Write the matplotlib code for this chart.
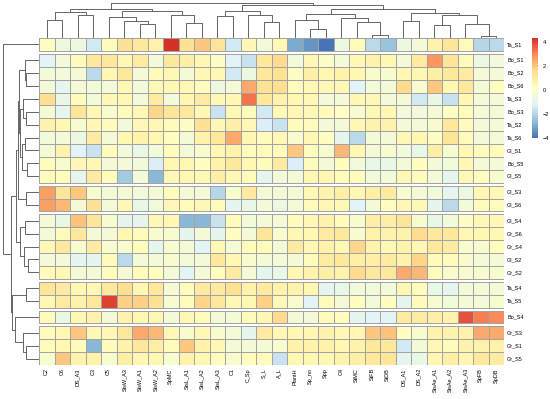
import numpy as np
import matplotlib
matplotlib.use("Agg")
import matplotlib.pyplot as plt
from matplotlib.colors import LinearSegmentedColormap
from matplotlib.cm import ScalarMappable
from matplotlib.colors import Normalize

plt.rcParams['font.family'] = ['Liberation Sans', 'DejaVu Sans']

# column / row order as shown (after clustering)
cols = ["C2", "C6", "DS_A3", "C3", "C5", "StsW_A3", "StsW_A1", "StsW_A2", "SpMC",
        "StsL_A1", "StsL_A2", "StsL_A3", "C1", "C_Sp", "S_L", "A_L", "PlantH", "Sp_no",
        "Spp", "C4", "StMC", "StFB", "StDB", "DS_A1", "DS_A2", "StsAe_A1", "StsAe_A2",
        "StsAe_A3", "SpFB", "SpDB"]
rows = ["Ta_S1", "Bo_S1", "Bo_S2", "Bo_S6", "Ta_S3", "Bo_S3", "Ta_S2", "Ta_S6", "Gl_S1",
        "Bo_S5", "Gl_S5", "Gl_S3", "Gl_S6", "Gl_S4", "Gr_S6", "Gr_S4", "Gl_S2", "Gr_S2",
        "Ta_S4", "Ta_S5", "Bo_S4", "Gr_S3", "Gr_S1", "Gr_S5"]

# scaled values (z-scores), one list per row
values = np.array([
    [0.15, -0.65, -0.65, -1.45, 0.3, 1.4, 1.15, 0.7, 4.3, 1.4, 1.9, 1.3, -1.45, 0.4, -0.35, 0.4, -3.0, -3.4, -4.0, -0.65, 0.3, -1.9, -2.5, -0.65, -0.35, 0.7, 1.3, 0.3, -2.0, -1.9],
    [-1.15, -0.5, 0.3, 1.15, 1.15, 0.4, 1.0, -0.5, 1.15, 0.85, 0.4, 0.0, -1.15, -1.6, 1.15, 1.6, -0.5, 0.4, 0.0, -0.5, 0.55, 0.7, 0.55, -0.35, 1.0, 2.8, 1.3, 0.3, -0.65, -0.5],
    [-0.5, -0.5, -0.35, -1.9, 0.55, 1.15, -0.35, 0.3, 0.4, -0.35, 0.4, 0.4, -1.45, -0.65, 1.15, 1.4, 0.0, 0.85, 0.55, 0.7, 0.55, -0.2, -0.2, 0.55, 0.4, 0.85, 1.15, 1.0, -0.35, -0.35],
    [-0.5, -1.0, -0.35, -0.5, -0.35, 0.55, -0.5, 0.4, 0.55, 0.4, 0.3, -0.65, -0.35, 2.4, 1.4, 1.5, 0.3, 0.4, 0.4, 0.4, -1.15, -0.5, -0.35, 1.6, -0.2, 1.9, 0.55, 1.15, -0.35, 0.15],
    [1.5, -0.8, 0.3, -0.5, 0.4, 0.4, -0.35, 1.0, -0.5, 0.55, 1.0, 0.4, 0.55, 3.3, 1.15, 0.7, 0.55, 0.55, -0.35, -0.35, 0.55, 0.4, -0.35, -0.35, -1.45, -0.8, -1.6, 0.55, -0.35, -0.35],
    [-0.35, -1.0, 1.3, 0.4, -0.2, 0.3, 0.4, 1.7, 1.3, 1.15, 0.55, -1.6, 0.4, 0.3, -1.45, 0.4, 0.55, 0.4, 0.3, 0.0, -0.2, 0.4, 0.4, -0.5, -0.5, -0.35, 0.0, 0.3, -0.35, -0.35],
    [0.7, 0.55, -0.2, 0.55, 0.3, -0.5, 0.4, 0.55, 0.3, 0.0, 1.4, 0.4, 0.85, 0.4, -1.3, -1.6, 0.3, 0.3, -0.35, -0.35, 0.55, 0.7, 0.7, -0.35, -0.35, -0.2, 1.15, 0.3, -0.35, -0.35],
    [-0.5, -0.35, -0.65, 1.0, -0.35, 0.55, 0.7, 0.4, 0.15, -0.35, 0.7, 1.15, 2.4, 0.55, 0.3, 0.55, -0.2, 0.4, 0.0, -1.0, -1.9, -0.35, -0.35, 0.4, 0.55, 0.0, 1.3, 0.3, -0.35, -0.35],
    [-0.35, 0.7, -1.15, -1.6, 0.3, -0.5, -0.8, -0.5, 0.3, -0.35, -0.2, 0.55, 0.7, 0.3, 0.3, 0.3, 1.9, 0.3, -0.2, 2.2, 0.55, -0.35, -0.2, -0.5, -0.8, 0.85, -0.2, 0.55, 0.3, 0.3],
    [0.3, -0.2, 0.4, 0.4, -0.35, -0.35, -0.5, -1.3, 0.55, 0.4, 0.15, 0.7, 1.15, 0.4, 0.3, 1.0, -1.3, 0.3, -0.35, 0.15, -0.5, -0.8, -0.8, -0.35, 0.15, -0.35, -0.5, 0.4, -0.35, -0.35],
    [0.3, 0.3, -1.0, 1.0, 0.3, -2.3, -0.5, -2.7, 0.55, 0.55, 0.4, 0.85, 0.55, 0.3, -1.0, -0.5, -0.35, 0.55, 0.55, 0.3, 0.3, -0.5, -0.5, 0.4, 0.3, -0.35, -1.0, 0.4, 0.15, -0.2],
    [2.6, 1.3, 1.9, -0.2, -0.35, -0.35, -0.5, -0.35, 0.3, -0.35, -0.35, -2.0, -0.2, 1.0, -0.35, -0.35, -0.35, 0.4, 0.7, 0.85, 0.55, 0.85, 1.0, -0.2, -0.35, -0.5, -1.0, -0.65, 0.55, 0.4],
    [2.6, 2.2, -0.35, 1.4, -0.5, 0.4, -0.8, -0.5, 0.4, 0.3, 0.4, 0.3, -1.0, -0.8, -0.5, -0.65, -0.35, 0.3, 0.55, 0.4, -1.15, -0.35, 0.15, 0.4, 0.4, -1.0, -1.9, -0.5, 0.3, 0.3],
    [-0.35, -0.8, 2.0, 1.3, -0.2, -1.0, -1.0, 0.4, 0.55, -2.7, -2.7, -1.6, 0.3, -0.5, -0.35, -0.35, 0.3, 0.55, 0.7, 0.3, -0.2, 0.85, 0.85, 1.3, -0.2, -0.8, -0.5, 0.0, 0.4, 0.4],
    [-0.35, 0.3, 1.15, -0.35, -0.35, 0.55, 0.3, -0.2, -0.2, -1.0, -0.35, -1.0, 0.15, -0.35, 1.3, -0.2, 0.4, 0.55, 1.0, 1.15, -0.2, 0.7, 0.7, 0.7, 1.6, 1.15, 1.15, 0.55, 0.55, 0.4],
    [0.4, 1.15, -0.2, 1.0, -0.2, -0.2, 0.3, -1.0, -0.2, -0.35, -1.15, 0.4, -0.35, 0.3, 0.3, -0.35, 1.0, 0.55, 0.7, 0.4, 1.7, 0.7, 0.4, 0.7, 0.55, 1.15, 1.0, -0.2, -0.2, 0.15],
    [-0.35, -0.5, -1.0, -1.0, 0.3, -1.9, -0.35, -0.35, -0.2, -0.35, -0.35, 1.15, 0.55, -0.2, -0.35, -0.35, -0.35, 0.3, 1.0, 1.15, 0.85, 0.85, 1.0, 0.7, 1.7, 0.3, 0.3, -0.2, -0.35, -0.35],
    [0.3, 0.55, -0.35, -0.35, 0.3, -0.35, 0.3, 0.15, -0.35, -1.15, -0.35, 0.15, 1.0, -0.35, -1.0, -0.8, 0.55, 0.7, 0.85, 0.7, 1.6, 1.15, 1.15, 2.4, 2.2, 0.3, -0.2, -0.2, -0.2, -0.2],
    [1.3, 1.0, 0.55, 0.4, 1.15, 1.5, 0.55, 1.15, -0.35, 0.3, 1.0, 1.0, 1.4, 0.7, 1.0, 0.7, 0.7, 0.55, -1.0, -0.8, -0.5, -0.5, -0.5, 0.55, 0.3, -0.8, -1.0, -0.5, -0.35, -0.35],
    [0.55, 1.0, 0.7, 1.15, 4.0, 1.8, 1.8, 1.4, -0.2, 0.3, 1.7, 1.15, 0.4, 0.55, 1.8, 0.4, -0.2, -1.15, 0.3, -0.35, 0.15, -0.5, 0.15, -1.0, 0.3, -0.2, -0.5, -0.35, -0.35, -0.2],
    [0.3, -0.8, 0.55, 0.7, -0.35, 0.7, 0.55, 0.55, -0.35, 0.4, 0.3, -0.35, -0.35, 0.3, 0.55, 1.6, -0.35, -0.35, 0.3, 0.15, -1.0, -1.15, -1.15, 1.0, 1.0, 0.85, 0.7, 3.8, 3.1, 2.9],
    [0.3, 0.55, 1.9, 0.4, 0.4, 1.15, 2.4, 2.2, 0.4, -0.2, 0.4, -0.2, -0.35, -1.0, 1.0, 0.55, 0.55, 0.55, 0.7, 0.4, 0.55, 1.9, 2.0, 0.15, -0.2, 0.7, 0.7, 0.7, 2.4, 2.4],
    [0.3, 0.55, 0.3, -2.7, 0.3, 0.7, 1.15, 0.85, 0.3, 1.9, 0.7, 0.4, -0.35, -0.35, -0.35, -0.2, 0.7, 0.7, 0.7, 0.55, 0.7, 1.15, 1.15, -1.45, -0.35, 0.4, 0.3, 0.7, 0.7, 0.7],
    [-0.2, 1.9, 0.7, 0.7, -0.2, 0.85, 0.55, 0.4, -0.2, 0.7, 0.4, 0.3, -0.2, 0.15, 0.3, -1.6, 0.4, 0.55, 0.55, 0.7, 0.85, 1.15, 1.3, -1.0, -0.8, 0.55, 0.85, 0.55, 1.15, 1.0],
])

# row gaps after these many rows (cutree k = 7)
row_gaps = [1, 11, 13, 18, 20, 21]

# dendrograms: (left, right, merge height)
col_tree = (
    ((("C2", "C6", 53), ("DS_A3", "C3", 70), 77),
     (("C5", ("StsW_A3", ("StsW_A1", "StsW_A2", 43), 50), 63),
      ("SpMC", ("StsL_A1", "StsL_A2", 45), 68), 80), 88),
    ((("StsL_A3", "C1", 65), ("C_Sp", ("S_L", "A_L", 47), 70), 80),
     ((("PlantH", ("Sp_no", "Spp", 27), 55), ("C4", ("StMC", ("StFB", "StDB", 10), 47), 60), 72),
      (("DS_A1", "DS_A2", 50),
       (("StsAe_A1", "StsAe_A2", 40), ("StsAe_A3", ("SpFB", "SpDB", 5), 43), 68), 75), 87), 98),
    105)

row_tree = (
    "Ta_S1",
    (((((("Bo_S1", ("Bo_S2", "Bo_S6", 38), 43),
          (("Ta_S3", ("Bo_S3", "Ta_S2", 38), 48),
           (("Ta_S6", "Gl_S1", 43), ("Bo_S5", "Gl_S5", 36), 50), 56), 60)),
        ("Gl_S3", "Gl_S6", 40), 63),
       (("Gl_S4", "Gr_S6", 43), ("Gr_S4", ("Gl_S2", "Gr_S2", 33), 46), 58), 70),
      (("Ta_S4", "Ta_S5", 40), ("Bo_S4", ("Gr_S3", ("Gr_S1", "Gr_S5", 38), 48), 73), 80), 83),
    108)

W, H = 550, 399
fig = plt.figure(figsize=(W / 100, H / 100), dpi=100)


def px_axes(x0, y0, x1, y1):
    ax = fig.add_axes([x0 / W, 1 - y1 / H, (x1 - x0) / W, (y1 - y0) / H])
    ax.set_axis_off()
    return ax


pal = ["#4575B4", "#91BFDB", "#E0F3F8", "#FFFFBF", "#FEE090", "#FC8D59", "#D73027"]
cmap = LinearSegmentedColormap.from_list("pheat", pal, N=100)
vmin, vmax = values.min(), values.max()

gap = 0.23
nr, nc = values.shape
row_top = np.array([i + gap * sum(g <= i for g in row_gaps) for i in range(nr)])
total_h = nr + gap * len(row_gaps)

# heatmap
hx0, hy0, hx1, hy1 = 39, 38, 504, 365
ax = px_axes(hx0, hy0, hx1, hy1)
bounds = [0] + row_gaps + [nr]
for s, e in zip(bounds[:-1], bounds[1:]):
    ax.pcolormesh(np.arange(nc + 1), row_top[s] + np.arange(e - s + 1), values[s:e],
                  cmap=cmap, vmin=vmin, vmax=vmax, edgecolor="#a3a3a3", linewidth=0.4)
ax.set_xlim(0, nc)
ax.set_ylim(total_h, 0)

for i, r in enumerate(rows):
    ax.text(nc + 0.2, row_top[i] + 0.5, r, fontsize=4, ha="left", va="center")
for j, c in enumerate(cols):
    ax.text(j + 0.5, total_h + 0.25, c, fontsize=4, rotation=90, ha="center", va="top")


def draw_tree(a, node, pos, top):
    if isinstance(node, str):
        return pos[node], 0.0
    left, right, h = node
    pa, ha = draw_tree(a, left, pos, top)
    pb, hb = draw_tree(a, right, pos, top)
    xs, ys = [pa, pa, pb, pb], [ha, h, h, hb]
    if top:
        a.plot(xs, ys, color="#4d4d4d", lw=0.6, solid_capstyle="butt")
    else:
        a.plot(ys, xs, color="#4d4d4d", lw=0.6, solid_capstyle="butt")
    return (pa + pb) / 2, h


# column dendrogram
axt = px_axes(hx0, 3, hx1, hy0)
draw_tree(axt, col_tree, {c: j + 0.5 for j, c in enumerate(cols)}, True)
axt.set_xlim(0, nc)
axt.set_ylim(0, col_tree[2])

# row dendrogram
axl = px_axes(3, hy0, hx0, hy1)
draw_tree(axl, row_tree, {r: row_top[i] + 0.5 for i, r in enumerate(rows)}, False)
axl.set_ylim(total_h, 0)
axl.set_xlim(row_tree[2], 0)

# legend
cax = fig.add_axes([531.7 / W, 1 - 138.3 / H, 6.6 / W, 100 / H])
cb = fig.colorbar(ScalarMappable(Normalize(vmin, vmax), cmap), cax=cax, ticks=[-4, -2, 0, 2, 4])
cb.outline.set_visible(False)
cax.tick_params(length=0, labelsize=4, pad=3)

fig.savefig("out.png", dpi=100)
